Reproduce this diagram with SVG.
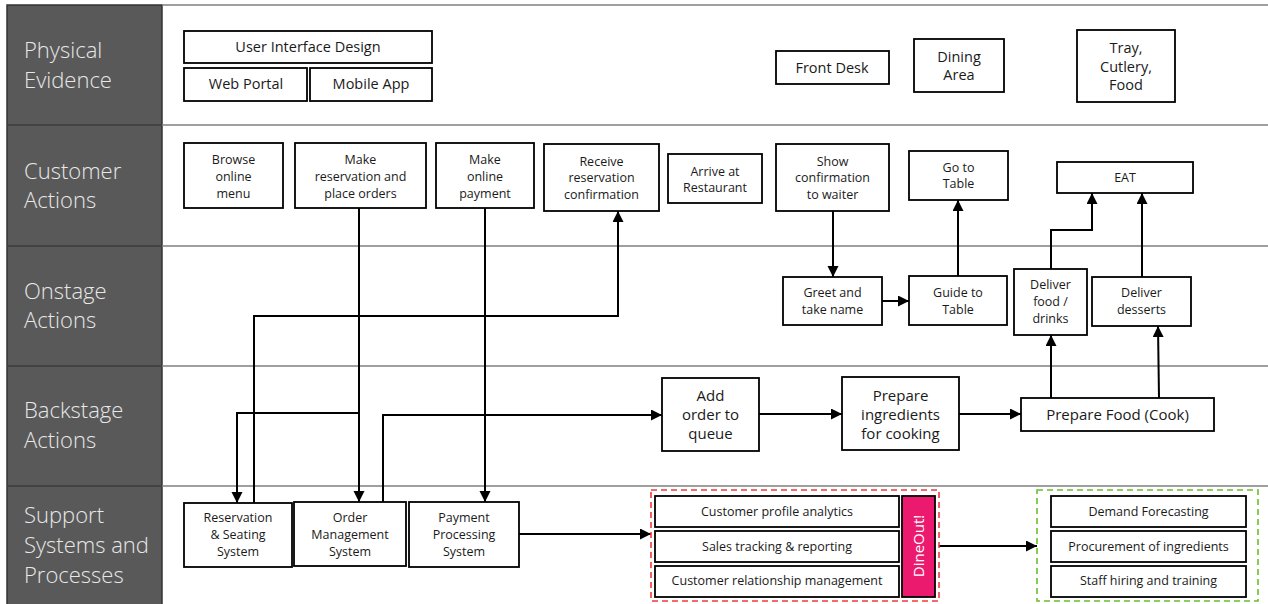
<svg xmlns="http://www.w3.org/2000/svg" width="1268" height="604" viewBox="0 0 1268 604">
<defs>
<marker id="ah" markerUnits="userSpaceOnUse" markerWidth="12" markerHeight="12" refX="11" refY="5.5" orient="auto">
<path d="M0,0 L11,5.5 L0,11 z" fill="#000"/>
</marker>
<style>
.lane{fill:#595959;stroke:#333;stroke-width:1.5}
.sep{stroke:#7f7f7f;stroke-width:1.6}
.lt{font-family:"Segoe UI","Open Sans","Noto Sans",sans-serif;font-weight:300;font-size:22px;fill:#e8e8e8}
.box{fill:#fff;stroke:#000;stroke-width:1.8}
.t{font-family:"Segoe UI","Open Sans","Noto Sans",sans-serif;fill:#1a1a1a;text-anchor:middle}
.s13{font-size:12.5px}
.s15{font-size:14.5px}
.s16{font-size:15px}
.c{fill:none;stroke:#000;stroke-width:2}
.ca{fill:none;stroke:#000;stroke-width:2;marker-end:url(#ah)}
</style>
</defs>
<rect x="0" y="0" width="1268" height="604" fill="#fff"/>
<g id="lanes">
<rect class="lane" x="7" y="5" width="155" height="600"/>
<line class="sep" x1="162" y1="5" x2="1268" y2="5"/>
<line class="sep" x1="7" y1="125" x2="1268" y2="125"/>
<line class="sep" x1="7" y1="246" x2="1268" y2="246"/>
<line class="sep" x1="7" y1="366" x2="1268" y2="366"/>
<line class="sep" x1="7" y1="486" x2="1268" y2="486"/>
<line x1="7" y1="125" x2="162" y2="125" stroke="#333" stroke-width="1.5"/>
<line x1="7" y1="246" x2="162" y2="246" stroke="#333" stroke-width="1.5"/>
<line x1="7" y1="366" x2="162" y2="366" stroke="#333" stroke-width="1.5"/>
<line x1="7" y1="486" x2="162" y2="486" stroke="#333" stroke-width="1.5"/>
<text class="lt" x="24" y="58">Physical</text>
<text class="lt" x="24" y="88">Evidence</text>
<text class="lt" x="24" y="179">Customer</text>
<text class="lt" x="24" y="208">Actions</text>
<text class="lt" x="24" y="299">Onstage</text>
<text class="lt" x="24" y="328">Actions</text>
<text class="lt" x="24" y="418">Backstage</text>
<text class="lt" x="24" y="448">Actions</text>
<text class="lt" x="24" y="523">Support</text>
<text class="lt" x="24" y="553">Systems and</text>
<text class="lt" x="24" y="583">Processes</text>
</g>
<g id="connectors">
<path class="ca" d="M359,208 V502"/>
<path class="ca" d="M359,413 H237 V503"/>
<path class="ca" d="M254,503 V316 H618 V211"/>
<path class="ca" d="M383,502 V415 H662"/>
<path class="ca" d="M485,208 V502"/>
<path class="ca" d="M833,211 V277"/>
<path class="ca" d="M882,301 H909"/>
<path class="ca" d="M958,276 V200"/>
<path class="ca" d="M1051,269 V230 H1092 V193"/>
<path class="ca" d="M1142,277 V193"/>
<path class="ca" d="M1051,398 V335"/>
<path class="ca" d="M1159,398 L1158,326"/>
<path class="ca" d="M759,414 H842"/>
<path class="ca" d="M959,414 H1021"/>
<path class="ca" d="M519,534 H651"/>
<path class="ca" d="M939,546 H1037"/>
</g>
<g id="n-uid"><rect class="box" x="184" y="31" width="248" height="32"/><text class="t s15" x="308" y="52">User Interface Design</text></g>
<g id="n-web"><rect class="box" x="184" y="68" width="123" height="33"/><text class="t s15" x="246" y="89">Web Portal</text></g>
<g id="n-mobile"><rect class="box" x="310" y="68" width="122" height="33"/><text class="t s15" x="371" y="89">Mobile App</text></g>
<g id="n-frontdesk"><rect class="box" x="776" y="51" width="113" height="33"/><text class="t s15" x="832" y="73">Front Desk</text></g>
<g id="n-dining"><rect class="box" x="914" y="39" width="90" height="53"/><text class="t s15" x="959" y="62">Dining</text><text class="t s15" x="959" y="80">Area</text></g>
<g id="n-tray"><rect class="box" x="1077" y="30" width="98" height="72"/><text class="t s15" x="1126" y="53">Tray,</text><text class="t s15" x="1126" y="72">Cutlery,</text><text class="t s15" x="1126" y="90">Food</text></g>

<g id="n-browse"><rect class="box" x="184" y="143" width="99" height="65"/><text class="t s13" x="233.5" y="164">Browse</text><text class="t s13" x="233.5" y="181">online</text><text class="t s13" x="233.5" y="198">menu</text></g>
<g id="n-makeres"><rect class="box" x="295" y="143" width="131" height="65"/><text class="t s13" x="360.5" y="164">Make</text><text class="t s13" x="360.5" y="181">reservation and</text><text class="t s13" x="360.5" y="198">place orders</text></g>
<g id="n-makepay"><rect class="box" x="436" y="143" width="98" height="65"/><text class="t s13" x="485" y="164">Make</text><text class="t s13" x="485" y="181">online</text><text class="t s13" x="485" y="198">payment</text></g>
<g id="n-receive"><rect class="box" x="544" y="144" width="115" height="67"/><text class="t s13" x="601.5" y="166">Receive</text><text class="t s13" x="601.5" y="182">reservation</text><text class="t s13" x="601.5" y="199">confirmation</text></g>
<g id="n-arrive"><rect class="box" x="668" y="154" width="94" height="49"/><text class="t s13" x="715" y="176">Arrive at</text><text class="t s13" x="715" y="192">Restaurant</text></g>
<g id="n-show"><rect class="box" x="776" y="144" width="113" height="67"/><text class="t s13" x="832.5" y="166">Show</text><text class="t s13" x="832.5" y="182">confirmation</text><text class="t s13" x="832.5" y="199">to waiter</text></g>
<g id="n-goto"><rect class="box" x="909" y="151" width="99" height="49"/><text class="t s13" x="958.5" y="172">Go to</text><text class="t s13" x="958.5" y="188">Table</text></g>
<g id="n-eat"><rect class="box" x="1057" y="162" width="136" height="31"/><text class="t s13" x="1125" y="182">EAT</text></g>

<g id="n-greet"><rect class="box" x="783" y="277" width="99" height="48"/><text class="t s13" x="832.5" y="297">Greet and</text><text class="t s13" x="832.5" y="314">take name</text></g>
<g id="n-guide"><rect class="box" x="909" y="276" width="98" height="49"/><text class="t s13" x="958" y="297">Guide to</text><text class="t s13" x="958" y="314">Table</text></g>
<g id="n-deliverfood"><rect class="box" x="1014" y="269" width="73" height="66"/><text class="t s13" x="1050.5" y="289">Deliver</text><text class="t s13" x="1050.5" y="306">food /</text><text class="t s13" x="1050.5" y="323">drinks</text></g>
<g id="n-deliverdess"><rect class="box" x="1092" y="277" width="99" height="49"/><text class="t s13" x="1141.5" y="297">Deliver</text><text class="t s13" x="1141.5" y="314">desserts</text></g>

<g id="n-addorder"><rect class="box" x="662" y="378" width="97" height="73"/><text class="t s16" x="710.5" y="401">Add</text><text class="t s16" x="710.5" y="420">order to</text><text class="t s16" x="710.5" y="439">queue</text></g>
<g id="n-preping"><rect class="box" x="842" y="377" width="117" height="73"/><text class="t s16" x="900.5" y="401">Prepare</text><text class="t s16" x="900.5" y="420">ingredients</text><text class="t s16" x="900.5" y="439">for cooking</text></g>
<g id="n-cook"><rect class="box" x="1021" y="398" width="193" height="33"/><text class="t s16" x="1117.5" y="420">Prepare Food (Cook)</text></g>

<g id="n-resv"><rect class="box" x="184" y="503" width="108" height="64"/><text class="t s13" x="238" y="522">Reservation</text><text class="t s13" x="238" y="539">&amp; Seating</text><text class="t s13" x="238" y="556">System</text></g>
<g id="n-oms"><rect class="box" x="294" y="502" width="112" height="64"/><text class="t s13" x="350" y="522">Order</text><text class="t s13" x="350" y="539">Management</text><text class="t s13" x="350" y="556">System</text></g>
<g id="n-pps"><rect class="box" x="409" y="502" width="110" height="65"/><text class="t s13" x="464" y="522">Payment</text><text class="t s13" x="464" y="539">Processing</text><text class="t s13" x="464" y="556">System</text></g>

<g id="n-dineout-group">
<rect x="651" y="490" width="288" height="111" fill="none" stroke="#f03a3a" stroke-width="1.6" stroke-dasharray="6,4"/>
<rect class="box" x="655" y="496" width="244" height="31"/><text class="t s13" x="777" y="516">Customer profile analytics</text>
<rect class="box" x="655" y="531" width="244" height="31"/><text class="t s13" x="777" y="551">Sales tracking &amp; reporting</text>
<rect class="box" x="655" y="566" width="244" height="31"/><text class="t s13" x="777" y="585">Customer relationship management</text>
<rect x="902" y="496" width="33" height="101" fill="#ec1a6e" stroke="#000" stroke-width="1.8"/>
<text class="t s16" x="0" y="0" style="fill:#fff" transform="translate(924,546) rotate(-90)">DineOut!</text>
</g>
<g id="n-ops-group">
<rect x="1037" y="490" width="221" height="111" fill="none" stroke="#6abf2a" stroke-width="1.6" stroke-dasharray="6,4"/>
<rect class="box" x="1051" y="496" width="195" height="31"/><text class="t s13" x="1148.5" y="516">Demand Forecasting</text>
<rect class="box" x="1051" y="531" width="195" height="31"/><text class="t s13" x="1148.5" y="551">Procurement of ingredients</text>
<rect class="box" x="1051" y="566" width="195" height="31"/><text class="t s13" x="1148.5" y="585">Staff hiring and training</text>
</g>
</svg>
